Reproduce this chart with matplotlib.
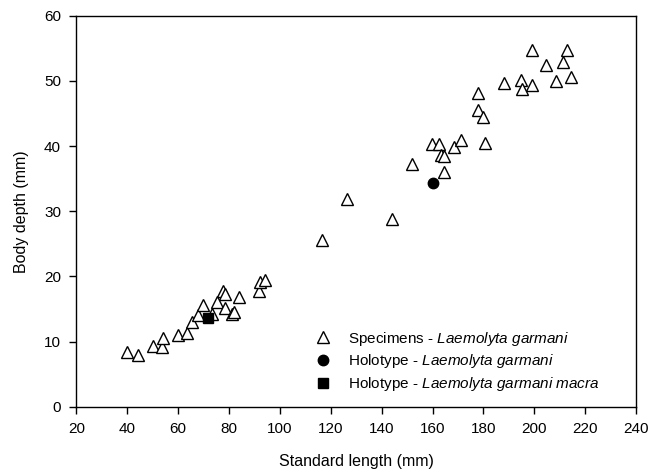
import matplotlib.pyplot as plt
import numpy as np

plt.rcParams['font.family'] = 'Liberation Sans'
plt.rcParams['font.size'] = 11
plt.rcParams['mathtext.fontset'] = 'custom'
plt.rcParams['mathtext.rm'] = 'Liberation Sans'
plt.rcParams['mathtext.it'] = 'Liberation Sans:italic'

# data (standard length, body depth) in mm
spec_length = [39.8, 44.4, 50.3, 53.6, 54.2, 60.1, 63.6, 65.6, 68.0, 69.9,
               73.2, 75.2, 77.5, 78.4, 78.4, 81.1, 82.0, 84.1, 91.9, 92.2,
               94.2, 116.6, 126.3, 144.2, 151.8, 164.5, 159.7, 162.6, 163.4, 164.7,
               168.6, 171.1, 180.7, 178.0, 180.0, 178.0, 188.2, 194.8, 195.1, 199.2,
               199.0, 204.5, 208.4, 211.4, 212.8, 214.5]
spec_depth = [8.4, 7.9, 9.3, 9.2, 10.5, 11.0, 11.3, 13.0, 14.1, 15.6,
              14.2, 16.0, 17.8, 17.3, 15.2, 14.2, 14.6, 16.8, 17.8, 19.2,
              19.4, 25.6, 31.8, 28.8, 37.3, 36.0, 40.3, 40.3, 38.6, 38.4,
              39.9, 40.9, 40.4, 45.5, 44.4, 48.2, 49.7, 50.1, 48.7, 49.4,
              54.7, 52.4, 50.0, 52.9, 54.7, 50.6]
holo_length = [160.3]
holo_depth = [34.4]
macra_length = [71.6]
macra_depth = [13.6]

fig = plt.figure(figsize=(6.62, 4.71), dpi=100)
ax = fig.add_axes([0.1153, 0.1365, 0.8455, 0.8301])

ax.plot(spec_length, spec_depth, linestyle='none', marker='^', markersize=8,
        markerfacecolor='white', markeredgecolor='black', markeredgewidth=1,
        label='Specimens - $\\it{Laemolyta\\ garmani}$')
ax.plot(holo_length, holo_depth, linestyle='none', marker='o', markersize=7.5,
        color='black', label='Holotype - $\\it{Laemolyta\\ garmani}$')
ax.plot(macra_length, macra_depth, linestyle='none', marker='s', markersize=6.5,
        color='black', label='Holotype - $\\it{Laemolyta\\ garmani\\ macra}$')

ax.set_xlim(20, 240)
ax.set_ylim(0, 60)
ax.set_xticks(np.arange(20, 241, 20))
ax.set_yticks(np.arange(0, 61, 10))
ax.tick_params(direction='out', length=5, width=1, top=False, right=False, pad=6)
for axis in ['top', 'bottom', 'left', 'right']:
    ax.spines[axis].set_linewidth(1)

ax.set_xlabel('Standard length (mm)', fontsize=11.5, labelpad=13)
ax.set_ylabel('Body depth (mm)', fontsize=11.5, labelpad=11)

ax.legend(loc='lower left', bbox_to_anchor=(0.395, 0.0), frameon=False,
          handletextpad=0.9, labelspacing=0.3, handlelength=1.5, fontsize=11)

plt.savefig('out.png', dpi=100)
